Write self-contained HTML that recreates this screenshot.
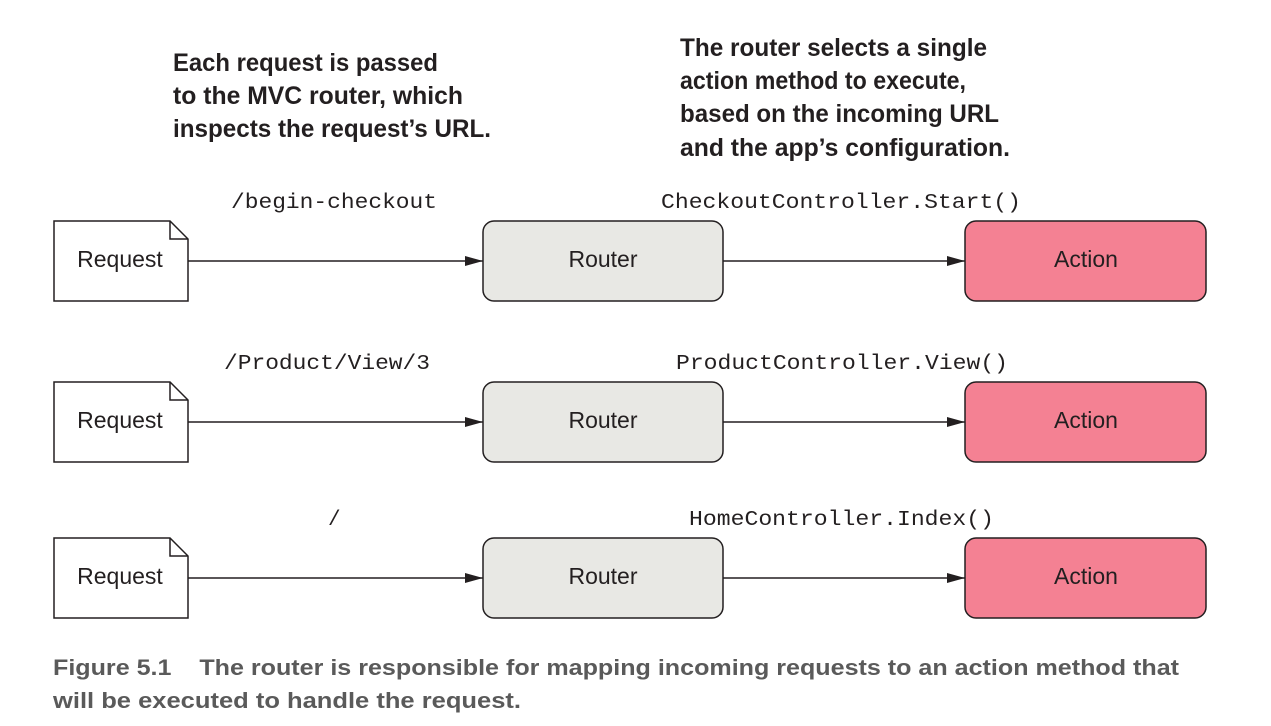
<!DOCTYPE html>
<html><head><meta charset="utf-8"><style>
html,body{margin:0;padding:0;background:#fff;}
svg{display:block;}
.h{font-family:"Liberation Sans",sans-serif;font-weight:bold;font-size:25px;fill:#231f20;}
.m{font-family:"Liberation Mono",monospace;font-size:21px;fill:#231f20;}
.n{font-family:"Liberation Sans",sans-serif;font-size:23px;fill:#231f20;}
.c{font-family:"Liberation Sans",sans-serif;font-weight:bold;font-size:22px;fill:#5a5a5a;}
</style></head><body>
<svg width="1271" height="726" viewBox="0 0 1271 726" xmlns="http://www.w3.org/2000/svg">
<defs><marker id="a" markerWidth="18" markerHeight="10" refX="18" refY="5" orient="auto" markerUnits="userSpaceOnUse"><path d="M0,0 L18,5 L0,10 Z" fill="#231f20"/></marker></defs>
<text class="h" x="173" y="71" textLength="265" lengthAdjust="spacingAndGlyphs">Each request is passed</text>
<text class="h" x="173" y="104" textLength="290" lengthAdjust="spacingAndGlyphs">to the MVC router, which</text>
<text class="h" x="173" y="137" textLength="318" lengthAdjust="spacingAndGlyphs">inspects the request’s URL.</text>
<text class="h" x="680" y="56" textLength="307" lengthAdjust="spacingAndGlyphs">The router selects a single</text>
<text class="h" x="680" y="89" textLength="286" lengthAdjust="spacingAndGlyphs">action method to execute,</text>
<text class="h" x="680" y="122" textLength="319" lengthAdjust="spacingAndGlyphs">based on the incoming URL</text>
<text class="h" x="680" y="156" textLength="330" lengthAdjust="spacingAndGlyphs">and the app’s configuration.</text>

<text class="m" x="231" y="208" textLength="206" lengthAdjust="spacingAndGlyphs">/begin-checkout</text>
<text class="m" x="661" y="208" textLength="360" lengthAdjust="spacingAndGlyphs">CheckoutController.Start()</text>
<text class="m" x="224" y="369" textLength="206" lengthAdjust="spacingAndGlyphs">/Product/View/3</text>
<text class="m" x="676" y="369" textLength="332" lengthAdjust="spacingAndGlyphs">ProductController.View()</text>
<text class="m" x="328" y="525">/</text>
<text class="m" x="689" y="525" textLength="305" lengthAdjust="spacingAndGlyphs">HomeController.Index()</text>

<g stroke="#231f20" stroke-width="1.5">
<path d="M54,221 H170 L188,239 V301 H54 Z" fill="#fff"/><path d="M170,221 V239 H188" fill="none"/>
<rect x="483" y="221" width="240" height="80" rx="11" fill="#e8e8e4"/>
<rect x="965" y="221" width="241" height="80" rx="11" fill="#f48193"/>
<line x1="188" y1="261" x2="483" y2="261" marker-end="url(#a)"/>
<line x1="723" y1="261" x2="965" y2="261" marker-end="url(#a)"/>
<path d="M54,382 H170 L188,400 V462 H54 Z" fill="#fff"/><path d="M170,382 V400 H188" fill="none"/>
<rect x="483" y="382" width="240" height="80" rx="11" fill="#e8e8e4"/>
<rect x="965" y="382" width="241" height="80" rx="11" fill="#f48193"/>
<line x1="188" y1="422" x2="483" y2="422" marker-end="url(#a)"/>
<line x1="723" y1="422" x2="965" y2="422" marker-end="url(#a)"/>
<path d="M54,538 H170 L188,556 V618 H54 Z" fill="#fff"/><path d="M170,538 V556 H188" fill="none"/>
<rect x="483" y="538" width="240" height="80" rx="11" fill="#e8e8e4"/>
<rect x="965" y="538" width="241" height="80" rx="11" fill="#f48193"/>
<line x1="188" y1="578" x2="483" y2="578" marker-end="url(#a)"/>
<line x1="723" y1="578" x2="965" y2="578" marker-end="url(#a)"/>
</g>
<g text-anchor="middle">
<text class="n" x="120" y="267">Request</text>
<text class="n" x="603" y="267">Router</text>
<text class="n" x="1086" y="267">Action</text>
<text class="n" x="120" y="428">Request</text>
<text class="n" x="603" y="428">Router</text>
<text class="n" x="1086" y="428">Action</text>
<text class="n" x="120" y="584">Request</text>
<text class="n" x="603" y="584">Router</text>
<text class="n" x="1086" y="584">Action</text>
</g>
<text class="c" x="53" y="675" textLength="1126" lengthAdjust="spacingAndGlyphs" xml:space="preserve">Figure 5.1    The router is responsible for mapping incoming requests to an action method that</text>
<text class="c" x="53" y="708" textLength="468" lengthAdjust="spacingAndGlyphs">will be executed to handle the request.</text>
</svg>
</body></html>
